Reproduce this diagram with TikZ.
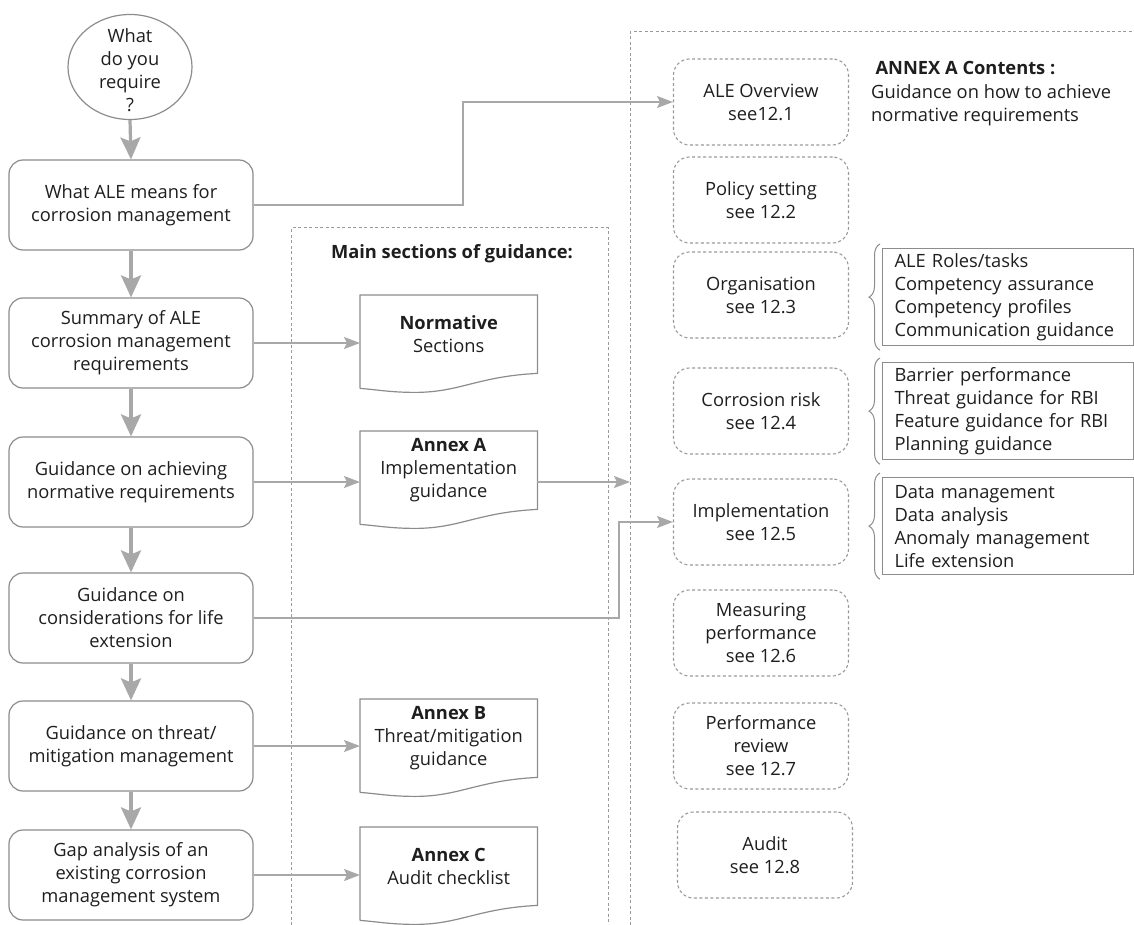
\documentclass[tikz,border=0pt]{standalone}
\usepackage{fontspec}
\setmainfont{Open Sans}
\usetikzlibrary{arrows.meta,decorations.pathreplacing,calc,shapes.geometric}
\definecolor{boxc}{HTML}{8C8C8C}
\definecolor{arrc}{HTML}{A8A8A8}
\definecolor{dotc}{HTML}{9A9A9A}
\definecolor{txt}{HTML}{1E1E1E}
\begin{document}
\begin{tikzpicture}[x=1pt,y=-1pt,
  every node/.style={font=\fontsize{18.3}{23}\selectfont, text=txt},
  lbox/.style={draw=boxc, line width=1.2pt, rounded corners=14pt, minimum width=244pt, minimum height=90pt, align=center, inner sep=0pt},
  rbox/.style={draw=dotc, dash pattern=on 3pt off 2.5pt, line width=1.1pt, rounded corners=16pt, minimum width=175pt, minimum height=86pt, align=center, inner sep=0pt},
  docbox/.style={minimum width=177pt, minimum height=78pt, align=center, inner sep=0pt, anchor=north west},
  docline/.style={draw=boxc, line width=1.2pt},
  listbox/.style={draw=boxc, line width=1.2pt, anchor=north west, minimum width=251pt, minimum height=97pt, text width=227pt, align=left, inner xsep=12pt, inner ysep=0pt},
  region/.style={draw=dotc, dash pattern=on 3pt off 2.5pt, line width=1pt},
  bigarrow/.style={draw=arrc, line width=3.2pt, -{Stealth[length=22pt,width=20pt,inset=4pt]}},
  thinarrow/.style={draw=arrc, line width=1.6pt, -{Stealth[length=16pt,width=12pt,inset=3pt]}},
  bracestyle/.style={draw=boxc, line width=1pt, decorate, decoration={brace, amplitude=11pt}},
  head/.style={font=\fontsize{18.3}{23}\selectfont\bfseries}
]
\useasboundingbox (0,0) rectangle (1134,925);

% regions
\draw[region] (291,925) -- (291,228) -- (608,228) -- (608,925);
\draw[region] (630,925) -- (630,32) -- (1134,32);
\coordinate (rr) at (630,32);
\coordinate (j1) at (463,0);
\coordinate (j2) at (619,0);

% left column
\node[draw=boxc, line width=1.2pt, ellipse, minimum width=124pt, minimum height=105pt, inner sep=0pt] (q) at (130,67)
  {\raisebox{-10pt}[0pt][0pt]{\begin{tabular}{@{}c@{}}What\\do you\\require\\?\end{tabular}}};
\node[lbox] (b1) at (131,205) {What ALE means for\\corrosion management};
\node[lbox] (b2) at (131,343) {Summary of ALE\\corrosion management\\requirements};
\node[lbox] (b3) at (131,482) {Guidance on achieving\\normative requirements};
\node[lbox] (b4) at (131,618) {Guidance on\\considerations for life\\extension};
\node[lbox] (b5) at (131,746) {Guidance on threat/\\mitigation management};
\node[lbox] (b6) at (131,875) {Gap analysis of an\\existing corrosion\\management system};

\draw[bigarrow] (q.south) -- (b1.north);
\draw[bigarrow] (b1.south) -- (b2.north);
\draw[bigarrow] (b2.south) -- (b3.north);
\draw[bigarrow] (b3.south) -- (b4.north);
\draw[bigarrow] (b4.south) -- (b5.north);
\draw[bigarrow] (b5.south) -- (b6.north);

% middle column
\node[head] (mh) at (452,254) {Main sections of guidance:};
\node[docbox] (dn) at (360,295) {\textbf{Normative}\\Sections};
\node[docbox] (da) at (360,431) {\textbf{Annex A}\\Implementation\\guidance};
\node[docbox] (db) at (360,699) {\textbf{Annex B}\\Threat/mitigation\\guidance};
\node[docbox] (dc) at (360,827) {\textbf{Annex C}\\Audit checklist};
\foreach \d in {dn,da,db,dc}{
  \draw[docline] ($(\d.south west)+(0,15)$) -- (\d.north west) -- (\d.north east) -- (\d.south east)
    .. controls ($(\d.south east)+(-60,3)$) and ($(\d.south west)+(100,19)$) .. ($(\d.south west)+(55,19)$)
    .. controls ($(\d.south west)+(30,19)$) and ($(\d.south west)+(15,16)$) .. ($(\d.south west)+(0,15)$);
}

\draw[thinarrow] (b2.east) -- (b2.east -| dn.west);
\draw[thinarrow] (b3.east) -- (b3.east -| da.west);
\draw[thinarrow] (b5.east) -- (b5.east -| db.west);
\draw[thinarrow] (b6.east) -- (b6.east -| dc.west);
\draw[thinarrow] (b3.east -| da.east) -- (b3.east -| rr);

% right column
\node[rbox] (r1) at (761,102) {ALE Overview\\see12.1};
\node[rbox] (r2) at (761,200) {Policy setting\\see 12.2};
\node[rbox] (r3) at (761,295) {Organisation\\see 12.3};
\node[rbox] (r4) at (761,411) {Corrosion risk\\see 12.4};
\node[rbox] (r5) at (761,522) {Implementation\\see 12.5};
\node[rbox] (r6) at (761,633) {Measuring\\performance\\see 12.6};
\node[rbox] (r7) at (761,746) {Performance\\review\\see 12.7};
\node[rbox] (r8) at (765,855) {Audit\\see 12.8};

\node[head, anchor=west] (ah) at (872,68) {ANNEX A Contents :};
\node[anchor=north west, align=left, inner sep=0pt] (ag) at (871,84) {Guidance on how to achieve\\normative requirements};

\node[listbox] (l3) at (882,248) {ALE Roles/tasks\\Competency assurance\\Competency profiles\\Communication guidance};
\node[listbox] (l4) at (882,362) {Barrier performance\\Threat guidance for RBI\\Feature guidance for RBI\\Planning guidance};
\node[listbox] (l5) at (882,477) {Data management\\Data analysis\\Anomaly management\\Life extension};
\foreach \l in {l3,l4,l5}{
  \draw[bracestyle] ($(\l.south west)+(-2,4)$) -- ($(\l.north west)+(-2,-4)$);
}

% long connectors
\draw[thinarrow] (b1.east) -- (j1 |- b1.east) -- (j1 |- r1.west) -- (r1.west);
\draw[thinarrow] (b4.east) -- (j2 |- b4.east) -- (j2 |- r5.west) -- (r5.west);
\end{tikzpicture}
\end{document}
